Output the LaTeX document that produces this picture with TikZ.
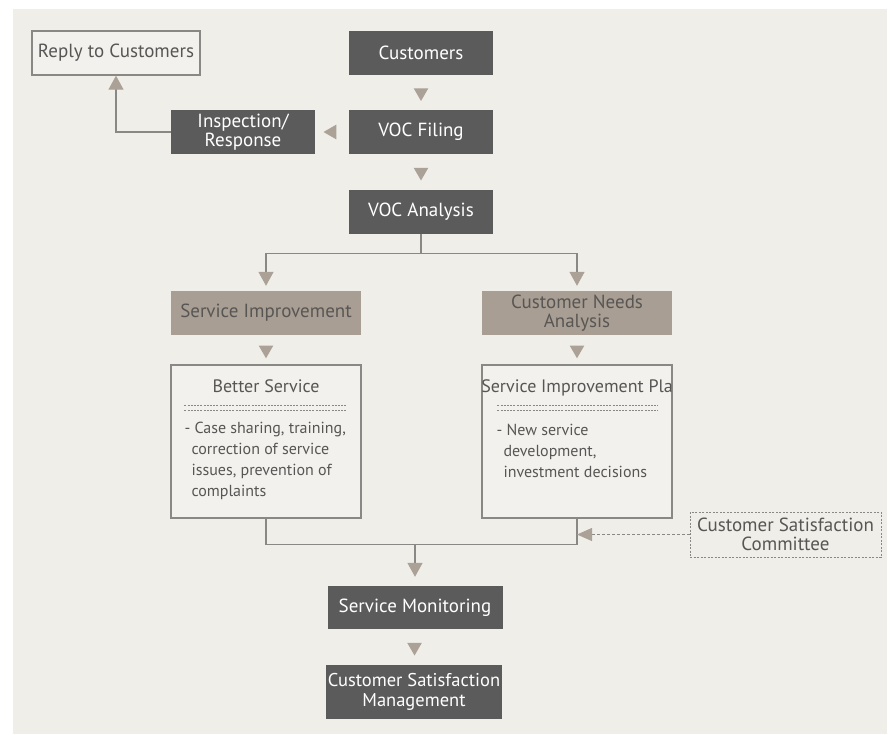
\documentclass[tikz,border=0pt]{standalone}
\usepackage{fontspec}
\setmainfont{PT Sans}
\usepackage{xcolor}
\usetikzlibrary{positioning,arrows.meta,shapes.geometric,calc}

\definecolor{bgcol}{HTML}{EFEEE9}
\definecolor{boxfill}{HTML}{F2F1ED}
\definecolor{darkfill}{HTML}{5B5B5B}
\definecolor{taupe}{HTML}{A99E93}
\definecolor{tricol}{HTML}{ABA197}
\definecolor{linecol}{HTML}{8A8885}
\definecolor{txtcol}{HTML}{585654}

\begin{document}
\begin{tikzpicture}[
    x=1pt, y=-1pt,
    box/.style={minimum height=44pt, align=center, inner sep=2pt,
                font=\fontsize{19}{18.5}\selectfont},
    darkbox/.style={box, fill=darkfill, text=white, minimum width=144pt},
    taupebox/.style={box, fill=taupe, text=txtcol, minimum width=190pt},
    outlinebox/.style={box, draw=linecol, line width=1.4pt, fill=boxfill, text=txtcol},
    detailbox/.style={outlinebox, minimum width=190pt, minimum height=153pt},
    dashbox/.style={box, draw=linecol, line width=0.9pt, dash pattern=on 2pt off 1.5pt,
                    text=txtcol, minimum width=191pt, minimum height=45pt},
    boxtitle/.style={font=\fontsize{18}{18}\selectfont, text=txtcol, inner sep=0pt},
    boxbody/.style={font=\fontsize{16}{21}\selectfont, text=txtcol, inner sep=0pt, align=left},
    sepline/.style={linecol, line width=0.8pt, dash pattern=on 2pt off 1.2pt},
    tri/.style={regular polygon, regular polygon sides=3, fill=tricol,
                inner sep=0pt, minimum size=17pt},
    tridown/.style={tri, regular polygon rotate=180},
    trileft/.style={tri, regular polygon rotate=90},
    line/.style={draw=linecol, line width=1.4pt},
    conn/.style={line, -{Triangle[width=15pt, length=14pt, color=tricol]}, shorten >=5pt},
    dashconn/.style={draw=linecol, line width=0.9pt, dash pattern=on 3pt off 2pt,
                     -{Triangle[width=13pt, length=15pt, color=tricol]}},
]

% background
\fill[bgcol] (13,9) rectangle (887,734);
\useasboundingbox (0,0) rectangle (890,734);

% =============================================
% top: intake of the VOC
% =============================================
\node[outlinebox, minimum width=168pt] at (116, 53) (reply) {Reply to Customers};
\node[darkbox] at (421, 53) (cust) {Customers};
\node[darkbox] at (421, 132) (vocf) {VOC Filing};
\node[darkbox] at (243, 132) (insp) {Inspection/\\Response};
\node[darkbox] at (421, 212) (voca) {VOC Analysis};

\path (cust) -- node[tridown] {} (vocf);
\path (vocf) -- node[trileft] {} (insp);
\path (vocf) -- node[tridown] {} (voca);
\draw[conn, shorten >=0pt] (insp.west) -| (reply.south);

% =============================================
% middle: two branches
% =============================================
\node[taupebox] at (266, 313) (svcimp) {Service Improvement};
\node[taupebox] at (577, 313) (needs) {Customer Needs\\Analysis};

\draw[conn] (voca.south) -- ++(0,19) coordinate (split) -| (svcimp.north);
\draw[conn] (split) -| (needs.north);

\node[detailbox] at (266, 441.5) (better) {};
\node[detailbox] at (577, 441.5) (plan) {};

\path (svcimp) -- node[tridown] {} (better);
\path (needs) -- node[tridown] {} (plan);

% box contents
\node[boxtitle, anchor=base] at ($(better.north)+(0,28)$) (bettertitle) {Better Service};
\draw[sepline] ($(better.north west)+(14,41)$) -- ++(162,0);
\draw[sepline] ($(better.north west)+(14,46.5)$) -- ++(162,0);
\node[boxbody, anchor=north west] at ($(better.north west)+(14,58)$) (betterbody)
    {- Case sharing, training,\\\hspace*{7pt}correction of service\\\hspace*{7pt}issues, prevention of\\\hspace*{7pt}complaints};

\node[boxtitle, anchor=base] at ($(plan.north)+(0,28)$) (plantitle) {Service Improvement Pla};
\draw[sepline] ($(plan.north west)+(16,41)$) -- ++(161,0);
\draw[sepline] ($(plan.north west)+(16,46.5)$) -- ++(161,0);
\node[boxbody, anchor=north west] at ($(plan.north west)+(15,60)$) (planbody)
    {- New service\\\hspace*{7pt}development,\\\hspace*{7pt}investment decisions};

% =============================================
% bottom: merge and monitoring
% =============================================
\node[dashbox] at (785.5, 534.5) (comm) {Customer Satisfaction\\Committee};
\node[darkbox, minimum width=175pt, minimum height=43pt] at (415, 607.5) (mon) {Service Monitoring};
\node[darkbox, minimum width=175pt, minimum height=54pt,
      font=\fontsize{18.5}{20}\selectfont] at (414, 692) (csm) {Customer Satisfaction\\Management};

\draw[line] (better.south) -- ++(0,26) coordinate (merge) -| (plan.south);
\draw[conn, shorten >=9pt] (merge -| mon.north) -- (mon.north);
\draw[dashconn] (comm.west) -- (comm.west -| plan.south);
\path (mon) -- node[tridown] {} (csm);

\end{tikzpicture}
\end{document}
